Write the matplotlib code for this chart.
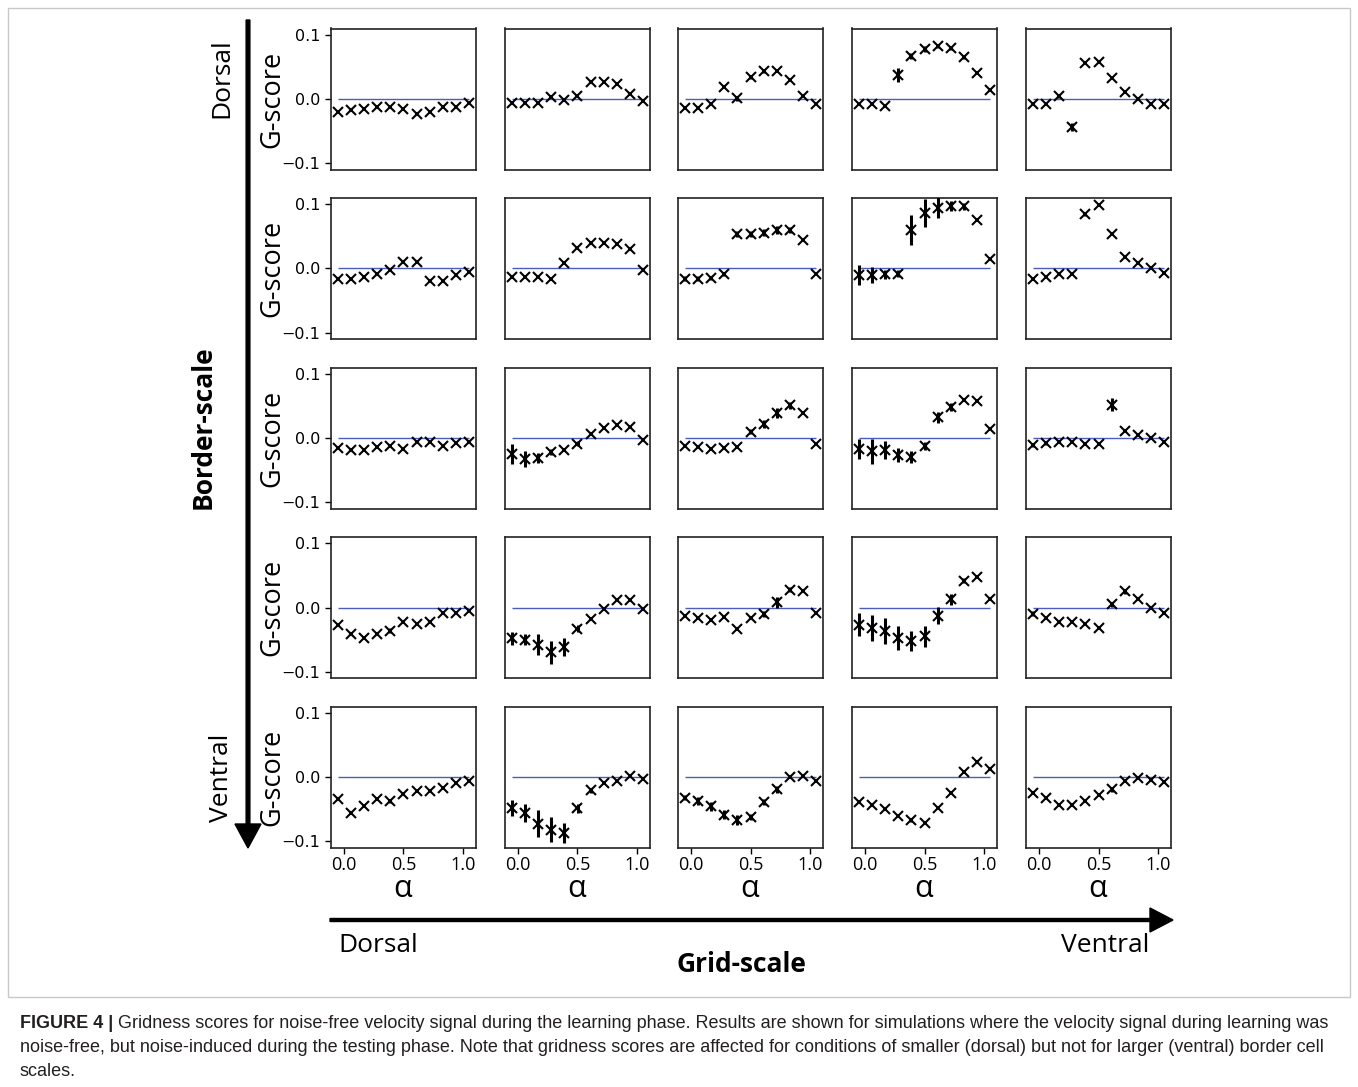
import numpy as np
import matplotlib
matplotlib.use("Agg")
import matplotlib.pyplot as plt
from matplotlib.patches import Rectangle, FancyArrow

# ---------------- data ----------------
alpha = [0.0, 0.1, 0.2, 0.3, 0.4, 0.5, 0.6, 0.7, 0.8, 0.9, 1.0]
xtick_labels = ["0.0", "0.5", "1.0"]
ytick_values = [-0.1, 0.0, 0.1]

# rows: border-scale (dorsal -> ventral), columns: grid-scale (dorsal -> ventral)
gscore_row1 = [
    [-0.020, -0.017, -0.016, -0.012, -0.012, -0.015, -0.024, -0.020, -0.012, -0.012, -0.007],
    [-0.006, -0.006, -0.007, 0.003, -0.002, 0.004, 0.027, 0.027, 0.023, 0.008, -0.003],
    [-0.0135, -0.0135, -0.008, 0.018, 0.001, 0.034, 0.044, 0.044, 0.030, 0.004, -0.008],
    [-0.008, -0.008, -0.011, 0.0375, 0.067, 0.078, 0.083, 0.079, 0.065, 0.040, 0.014],
    [-0.008, -0.008, 0.004, -0.044, 0.056, 0.058, 0.032, 0.011, 0.0, -0.008, -0.008],
]
gscore_row2 = [
    [-0.016, -0.016, -0.014, -0.009, -0.003, 0.010, 0.010, -0.019, -0.020, -0.010, -0.005],
    [-0.013, -0.013, -0.013, -0.016, 0.008, 0.032, 0.040, 0.040, 0.038, 0.031, -0.003],
    [-0.016, -0.016, -0.0145, -0.009, 0.054, 0.054, 0.056, 0.060, 0.060, 0.044, -0.008],
    [-0.010, -0.010, -0.009, -0.008, 0.060, 0.087, 0.095, 0.097, 0.097, 0.075, 0.015],
    [-0.016, -0.013, -0.008, -0.008, 0.085, 0.099, 0.054, 0.018, 0.009, 0.0, -0.007],
]
gscore_row3 = [
    [-0.0155, -0.018, -0.018, -0.0145, -0.013, -0.017, -0.007, -0.007, -0.012, -0.008, -0.007],
    [-0.025, -0.033, -0.031, -0.022, -0.018, -0.009, 0.007, 0.015, 0.020, 0.017, -0.003],
    [-0.013, -0.0145, -0.017, -0.0155, -0.014, 0.010, 0.022, 0.039, 0.051, 0.039, -0.009],
    [-0.0175, -0.021, -0.019, -0.026, -0.030, -0.0125, 0.032, 0.048, 0.060, 0.058, 0.0135],
    [-0.011, -0.008, -0.006, -0.007, -0.009, -0.009, 0.052, 0.011, 0.005, 0.0, -0.007],
]
gscore_row4 = [
    [-0.027, -0.041, -0.047, -0.041, -0.036, -0.022, -0.026, -0.022, -0.008, -0.009, -0.006],
    [-0.048, -0.050, -0.058, -0.070, -0.061, -0.033, -0.0175, -0.002, 0.011, 0.011, -0.0025],
    [-0.013, -0.0165, -0.019, -0.015, -0.033, -0.0165, -0.010, 0.008, 0.0275, 0.025, -0.009],
    [-0.027, -0.032, -0.037, -0.048, -0.0525, -0.045, -0.0125, 0.0125, 0.042, 0.047, 0.0125],
    [-0.010, -0.016, -0.022, -0.022, -0.0255, -0.0315, 0.0047, 0.025, 0.0135, 0.0, -0.008],
]
gscore_row5 = [
    [-0.035, -0.056, -0.0445, -0.035, -0.037, -0.026, -0.022, -0.022, -0.017, -0.009, -0.006],
    [-0.048, -0.056, -0.073, -0.082, -0.087, -0.049, -0.021, -0.009, -0.006, 0.002, -0.0025],
    [-0.032, -0.037, -0.046, -0.059, -0.0675, -0.062, -0.039, -0.0195, 0.0, 0.002, -0.0068],
    [-0.0385, -0.0437, -0.0505, -0.061, -0.067, -0.071, -0.049, -0.0245, 0.0083, 0.023, 0.0125],
    [-0.0245, -0.033, -0.044, -0.043, -0.0375, -0.028, -0.019, -0.0057, -0.001, -0.0047, -0.0073],
]

err_row1 = [
    [0, 0, 0, 0, 0, 0, 0, 0, 0, 0, 0],
    [0, 0, 0, 0, 0, 0, 0, 0, 0, 0, 0],
    [0, 0, 0, 0, 0.004, 0.003, 0.003, 0.002, 0, 0, 0],
    [0.002, 0.002, 0.002, 0.0115, 0.005, 0.004, 0.003, 0.002, 0.002, 0, 0],
    [0, 0, 0.002, 0.006, 0, 0, 0, 0, 0, 0, 0],
]
err_row2 = [
    [0, 0, 0, 0, 0, 0, 0, 0, 0, 0, 0],
    [0, 0, 0, 0, 0, 0, 0, 0, 0, 0, 0],
    [0.004, 0.004, 0.003, 0.003, 0.005, 0.005, 0.005, 0.006, 0.005, 0, 0],
    [0.015, 0.012, 0.007, 0.006, 0.024, 0.022, 0.016, 0.008, 0.005, 0, 0],
    [0, 0, 0, 0, 0.003, 0, 0.002, 0, 0, 0, 0],
]
err_row3 = [
    [0, 0, 0, 0, 0, 0, 0, 0, 0, 0, 0],
    [0.016, 0.012, 0.008, 0.005, 0.002, 0.004, 0.003, 0, 0, 0, 0],
    [0, 0, 0, 0, 0, 0.004, 0.006, 0.008, 0.005, 0, 0],
    [0.0155, 0.0195, 0.014, 0.011, 0.009, 0.006, 0.008, 0.006, 0.002, 0, 0],
    [0.003, 0.003, 0.002, 0, 0, 0, 0.010, 0.002, 0, 0, 0],
]
err_row4 = [
    [0, 0, 0, 0, 0.004, 0, 0, 0, 0, 0, 0],
    [0.010, 0.009, 0.016, 0.018, 0.014, 0.006, 0, 0, 0, 0, 0],
    [0, 0, 0, 0, 0, 0, 0.005, 0.008, 0.004, 0, 0],
    [0.018, 0.021, 0.020, 0.019, 0.016, 0.016, 0.014, 0.008, 0.004, 0, 0],
    [0.004, 0, 0, 0, 0, 0, 0.004, 0.004, 0, 0, 0],
]
err_row5 = [
    [0, 0, 0, 0, 0.003, 0, 0, 0, 0, 0, 0],
    [0.0125, 0.0145, 0.021, 0.020, 0.016, 0.007, 0.004, 0, 0, 0, 0],
    [0.004, 0.006, 0.007, 0.007, 0.008, 0.005, 0.005, 0.005, 0, 0, 0],
    [0, 0, 0, 0, 0.003, 0, 0, 0, 0, 0, 0],
    [0, 0, 0, 0, 0, 0, 0.004, 0, 0, 0, 0],
]

gscores = [gscore_row1, gscore_row2, gscore_row3, gscore_row4, gscore_row5]
errors = [err_row1, err_row2, err_row3, err_row4, err_row5]

caption_bold = "FIGURE 4 |"
caption_lines = [
    "Gridness scores for noise-free velocity signal during the learning phase. Results are shown for simulations where the velocity signal during learning was",
    "noise-free, but noise-induced during the testing phase. Note that gridness scores are affected for conditions of smaller (dorsal) but not for larger (ventral) border cell",
    "scales.",
]

# ---------------- layout ----------------
W, H = 1358, 1087
fig = plt.figure(figsize=(W / 100, H / 100), dpi=100)

col_left = [331, 505, 678, 852, 1026]
row_top = [28.5, 198, 367.5, 537, 706.5]
ax_w, ax_h = 145, 141

def fx(px):
    return px / W

def fy(py):
    return 1 - py / H

zero_line_color = "#4a5cc0"
tick_pos = [0.05, 0.5, 0.95]

for r in range(5):
    for c in range(5):
        ax = fig.add_axes([fx(col_left[c]), fy(row_top[r] + ax_h), ax_w / W, ax_h / H])
        ax.hlines(0, alpha[0], alpha[-1], color=zero_line_color, lw=1.0, zorder=1)
        ax.errorbar(alpha, gscores[r][c], yerr=errors[r][c], fmt="x", color="black",
                    ecolor="black", elinewidth=2.2, capsize=0, markersize=7.5,
                    markeredgewidth=1.5, zorder=3)
        ax.set_xlim(-0.05, 1.05)
        ax.set_ylim(-0.11, 0.11)
        for s in ax.spines.values():
            s.set_linewidth(1.2)
            s.set_color("#222222")
        if c == 0:
            ax.set_yticks(ytick_values)
            ax.set_yticklabels(["\u22120.1", "0.0", "0.1"], fontsize=11.5, family="DejaVu Sans")
            ax.tick_params(axis="y", length=4, width=1)
            fig.text(fx(272), fy(row_top[r] + ax_h / 2), "G-score", rotation=90,
                     ha="center", va="center", fontsize=19.5, family="Open Sans")
        else:
            ax.set_yticks([])
        if r == 4:
            ax.set_xticks(tick_pos)
            ax.set_xticklabels(xtick_labels, fontsize=13, family="Open Sans")
            ax.tick_params(axis="x", length=4, width=1, pad=2)
            fig.text(fx(col_left[c] + ax_w / 2 - 1), fy(889), "\u03b1", ha="center",
                     va="center", fontsize=22, family="Open Sans")
        else:
            ax.set_xticks([])

# vertical arrow (border-scale)
fig.add_artist(FancyArrow(fx(248), fy(20), 0, fy(848) - fy(20), width=3 / H,
                          head_width=26 / W, head_length=24 / H,
                          length_includes_head=True, color="black",
                          transform=fig.transFigure))
fig.text(fx(222), fy(78), "Dorsal", rotation=90, ha="center", va="center",
         fontsize=19, family="Open Sans")
fig.text(fx(222), fy(778), "Ventral", rotation=90, ha="center", va="center",
         fontsize=19, family="Open Sans")
fig.text(fx(203), fy(427), "Border-scale", rotation=90, ha="center", va="center",
         fontsize=19, fontweight="bold", family="Open Sans")

# horizontal arrow (grid-scale)
fig.add_artist(FancyArrow(fx(330), fy(920), fx(1173) - fx(330), 0, width=3 / H,
                          head_width=24 / H, head_length=23 / W,
                          length_includes_head=True, color="black",
                          transform=fig.transFigure))
fig.text(fx(378), fy(946), "Dorsal", ha="center", va="center", fontsize=19,
         family="Open Sans")
fig.text(fx(1105), fy(946), "Ventral", ha="center", va="center", fontsize=19,
         family="Open Sans")
fig.text(fx(741), fy(964), "Grid-scale", ha="center", va="center", fontsize=19,
         fontweight="bold", family="Open Sans")

# frame around figure
fig.add_artist(Rectangle((fx(8), fy(997)), fx(1350) - fx(8), fy(8) - fy(997),
                         transform=fig.transFigure, fill=False,
                         edgecolor="#c8c8c8", lw=1.0))

# caption
cap_fs = 13
tb = fig.text(fx(20), fy(1023), caption_bold, ha="left", va="center", fontsize=cap_fs,
              fontweight="bold", family="Liberation Sans", color="#231f20")
fig.canvas.draw()
bb = tb.get_window_extent(renderer=fig.canvas.get_renderer())
fig.text((bb.x1 + 5) / W, fy(1023), caption_lines[0], ha="left", va="center",
         fontsize=cap_fs, family="Liberation Sans", color="#231f20")
fig.text(fx(20), fy(1048), caption_lines[1], ha="left", va="center", fontsize=cap_fs,
         family="Liberation Sans", color="#231f20")
fig.text(fx(20), fy(1072), caption_lines[2], ha="left", va="center", fontsize=cap_fs,
         family="Liberation Sans", color="#231f20")

fig.savefig("out.png", dpi=100)
